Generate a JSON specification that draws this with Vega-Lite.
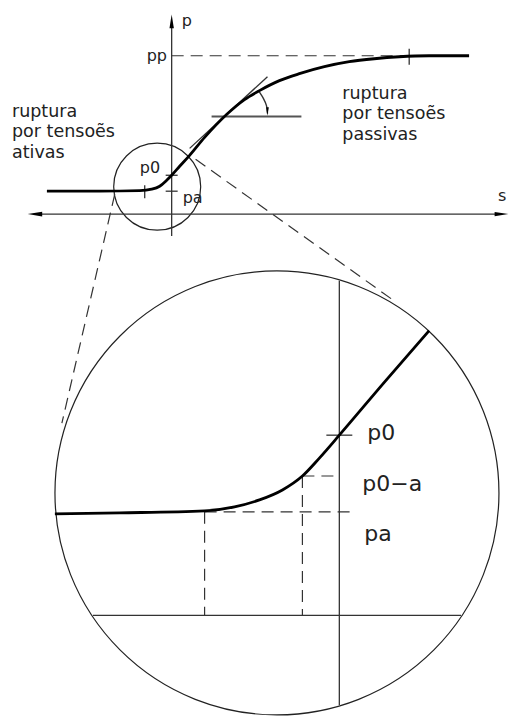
{
  "$schema": "https://vega.github.io/schema/vega-lite/v6.json",
  "width": 509,
  "height": 717,
  "autosize": {"type": "fit", "contains": "padding"},
  "padding": 0,
  "background": "white",
  "config": {"view": {"stroke": null}},
  "datasets": {
    "thin": [
      {"g": "paxis", "o": 0, "x": 172, "y": 27}, {"g": "paxis", "o": 1, "x": 172, "y": 237},
      {"g": "saxis", "o": 0, "x": 40, "y": 215}, {"g": "saxis", "o": 1, "x": 500, "y": 215},
      {"g": "tickR", "o": 0, "x": 410, "y": 49}, {"g": "tickR", "o": 1, "x": 410, "y": 65},
      {"g": "tickL", "o": 0, "x": 145, "y": 186}, {"g": "tickL", "o": 1, "x": 145, "y": 199},
      {"g": "tickp0", "o": 0, "x": 166, "y": 176}, {"g": "tickp0", "o": 1, "x": 178, "y": 176},
      {"g": "tickpa", "o": 0, "x": 166, "y": 192}, {"g": "tickpa", "o": 1, "x": 178, "y": 192},
      {"g": "tangent", "o": 0, "x": 190, "y": 149}, {"g": "tangent", "o": 1, "x": 268, "y": 77},
      {"g": "bigv", "o": 0, "x": 340, "y": 282}, {"g": "bigv", "o": 1, "x": 340, "y": 708},
      {"g": "bigh", "o": 0, "x": 93, "y": 618}, {"g": "bigh", "o": 1, "x": 462, "y": 618},
      {"g": "bigp0", "o": 0, "x": 327, "y": 437}, {"g": "bigp0", "o": 1, "x": 353, "y": 437}
    ],
    "horiz": [
      {"o": 0, "x": 212, "y": 117}, {"o": 1, "x": 302, "y": 117}
    ],
    "arc": [
      {"o": 0, "x": 268, "y": 114},
      {"o": 1, "x": 267, "y": 106},
      {"o": 2, "x": 264, "y": 99},
      {"o": 3, "x": 259, "y": 91}
    ],
    "dashed": [
      {"g": "pp", "o": 0, "x": 172, "y": 56}, {"g": "pp", "o": 1, "x": 440, "y": 56},
      {"g": "connL", "o": 0, "x": 115, "y": 195}, {"g": "connL", "o": 1, "x": 62, "y": 425},
      {"g": "connR", "o": 0, "x": 196, "y": 160}, {"g": "connR", "o": 1, "x": 392, "y": 300},
      {"g": "p0ah", "o": 0, "x": 303, "y": 478}, {"g": "p0ah", "o": 1, "x": 340, "y": 478},
      {"g": "p0av", "o": 0, "x": 303, "y": 478}, {"g": "p0av", "o": 1, "x": 303, "y": 618},
      {"g": "pah", "o": 0, "x": 205, "y": 514}, {"g": "pah", "o": 1, "x": 355, "y": 514},
      {"g": "pav", "o": 0, "x": 205, "y": 514}, {"g": "pav", "o": 1, "x": 205, "y": 618}
    ],
    "curves": [
      {"g": "top", "x": 47, "y": 192}, {"g": "top", "x": 100, "y": 192}, {"g": "top", "x": 140, "y": 191.5},
      {"g": "top", "x": 152, "y": 190}, {"g": "top", "x": 160, "y": 187}, {"g": "top", "x": 167, "y": 181},
      {"g": "top", "x": 172, "y": 176}, {"g": "top", "x": 180, "y": 167}, {"g": "top", "x": 190, "y": 156},
      {"g": "top", "x": 205, "y": 138}, {"g": "top", "x": 227, "y": 115}, {"g": "top", "x": 245, "y": 100},
      {"g": "top", "x": 260, "y": 91}, {"g": "top", "x": 280, "y": 81}, {"g": "top", "x": 300, "y": 74},
      {"g": "top", "x": 325, "y": 67}, {"g": "top", "x": 350, "y": 62}, {"g": "top", "x": 375, "y": 59},
      {"g": "top", "x": 400, "y": 57}, {"g": "top", "x": 430, "y": 56}, {"g": "top", "x": 470, "y": 56},
      {"g": "big", "x": 55, "y": 516}, {"g": "big", "x": 120, "y": 515}, {"g": "big", "x": 205, "y": 513},
      {"g": "big", "x": 235, "y": 509}, {"g": "big", "x": 260, "y": 502}, {"g": "big", "x": 283, "y": 492},
      {"g": "big", "x": 303, "y": 478}, {"g": "big", "x": 320, "y": 460}, {"g": "big", "x": 340, "y": 437},
      {"g": "big", "x": 385, "y": 384}, {"g": "big", "x": 430, "y": 332}
    ],
    "circles": [
      {"c": "small", "x": 157.5, "y": 187.5, "d2": 7569},
      {"c": "big", "x": 277.5, "y": 495, "d2": 197136}
    ],
    "arrows": [
      {"a": "up", "x": 172, "y": 21.5, "ang": 0, "s": 190},
      {"a": "left", "x": 35, "y": 215, "ang": -90, "s": 210},
      {"a": "right", "x": 502.5, "y": 215, "ang": 90, "s": 190},
      {"a": "arc", "x": 268, "y": 112, "ang": 180, "s": 70}
    ],
    "texts": [
      {"t": "p", "x": 182, "y": 26, "fs": 16},
      {"t": "pp", "x": 147, "y": 61, "fs": 16},
      {"t": "p0", "x": 140, "y": 174, "fs": 16},
      {"t": "pa", "x": 183, "y": 204, "fs": 16},
      {"t": "s", "x": 499, "y": 202, "fs": 16},
      {"t": "ruptura", "x": 12, "y": 117, "fs": 17.5},
      {"t": "por tensoẽs", "x": 12, "y": 138, "fs": 17.5},
      {"t": "ativas", "x": 12, "y": 159, "fs": 17.5},
      {"t": "ruptura", "x": 343, "y": 99, "fs": 17.5},
      {"t": "por tensoẽs", "x": 343, "y": 120, "fs": 17.5},
      {"t": "passivas", "x": 343, "y": 141, "fs": 17.5},
      {"t": "p0", "x": 368, "y": 442, "fs": 22},
      {"t": "p0−a", "x": 363, "y": 493, "fs": 22},
      {"t": "pa", "x": 365, "y": 543, "fs": 22}
    ]
  },
  "encoding": {
    "x": {"field": "x", "type": "quantitative", "scale": {"domain": [0, 509], "zero": false, "nice": false}, "axis": null},
    "y": {"field": "y", "type": "quantitative", "scale": {"domain": [0, 717], "zero": false, "nice": false, "reverse": true}, "axis": null}
  },
  "layer": [
    {
      "data": {"name": "circles"},
      "mark": {"type": "point", "shape": "circle", "filled": false, "stroke": "#222", "strokeWidth": 1.2, "opacity": 1},
      "encoding": {"size": {"field": "d2", "type": "quantitative", "scale": null}}
    },
    {
      "data": {"name": "thin"},
      "mark": {"type": "line", "color": "#333", "strokeWidth": 1.3},
      "encoding": {"detail": {"field": "g"}, "order": {"field": "o", "type": "quantitative"}}
    },
    {
      "data": {"name": "horiz"},
      "mark": {"type": "line", "color": "#555", "strokeWidth": 2},
      "encoding": {"order": {"field": "o", "type": "quantitative"}}
    },
    {
      "data": {"name": "arc"},
      "mark": {"type": "line", "color": "#333", "strokeWidth": 1.4, "interpolate": "cardinal"},
      "encoding": {"order": {"field": "o", "type": "quantitative"}}
    },
    {
      "data": {"name": "dashed"},
      "mark": {"type": "line", "color": "#333", "strokeWidth": 1.2, "strokeDash": [12, 7]},
      "encoding": {"detail": {"field": "g"}, "order": {"field": "o", "type": "quantitative"}}
    },
    {
      "data": {"name": "curves"},
      "mark": {"type": "line", "color": "#000", "strokeWidth": 2.8, "interpolate": "monotone"},
      "encoding": {"detail": {"field": "g"}}
    },
    {
      "data": {"name": "arrows"},
      "mark": {"type": "point", "shape": "M0,-1L0.32,1L-0.32,1Z", "filled": true, "color": "#000", "opacity": 1},
      "encoding": {
        "size": {"field": "s", "type": "quantitative", "scale": null},
        "angle": {"field": "ang", "type": "quantitative", "scale": null}
      }
    },
    {
      "data": {"name": "texts"},
      "mark": {"type": "text", "align": "left", "baseline": "alphabetic", "font": "DejaVu Sans", "color": "#222"},
      "encoding": {
        "text": {"field": "t"},
        "size": {"field": "fs", "type": "quantitative", "scale": null}
      }
    }
  ]
}
